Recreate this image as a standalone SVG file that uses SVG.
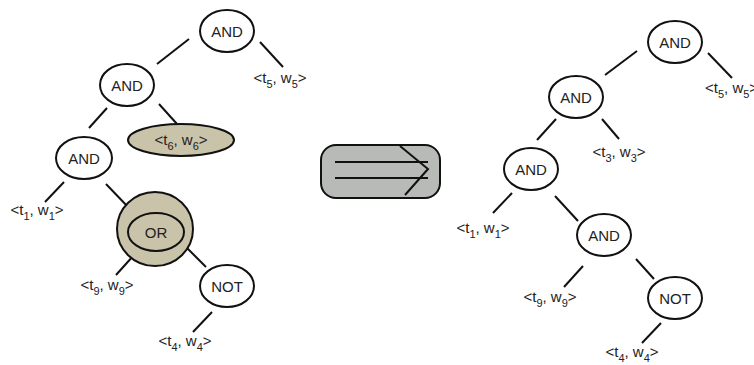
<svg xmlns="http://www.w3.org/2000/svg" width="754" height="365" viewBox="0 0 754 365">
<style>
.n{fill:#fff;stroke:#111;stroke-width:2}
.tan{fill:#c9c3aa;stroke:#111;stroke-width:2}
.t{font-family:"Liberation Sans",Arial,sans-serif;font-size:15px;fill:#222;text-anchor:middle}
.l{font-family:"Liberation Sans",Arial,sans-serif;font-size:15px;fill:#222;text-anchor:middle}
.s{font-size:11px}
.c line{stroke:#111;stroke-width:2}
</style>
<rect width="754" height="365" fill="#fff"/>
<g class="c" id="connectors">
<line x1="189" y1="39" x2="157" y2="64"/>
<line x1="260" y1="42" x2="283" y2="67"/>
<line x1="107" y1="108" x2="89" y2="128"/>
<line x1="159" y1="104" x2="177" y2="124"/>
<line x1="64" y1="182" x2="45" y2="202"/>
<line x1="106" y1="184" x2="129" y2="208"/>
<line x1="134" y1="255" x2="116" y2="275"/>
<line x1="187" y1="248" x2="206" y2="267"/>
<line x1="212" y1="312" x2="193" y2="332"/>
<line x1="637" y1="51" x2="605" y2="75"/>
<line x1="708" y1="53" x2="732" y2="78"/>
<line x1="556" y1="119" x2="537" y2="140"/>
<line x1="602" y1="119" x2="619" y2="139"/>
<line x1="512" y1="193" x2="493" y2="213"/>
<line x1="555" y1="196" x2="578" y2="221"/>
<line x1="583" y1="266" x2="564" y2="287"/>
<line x1="636" y1="259" x2="654" y2="279"/>
<line x1="661" y1="323" x2="642" y2="343"/>
</g>
<g id="L_and1"><ellipse class="n" cx="227" cy="31" rx="27" ry="21"/><text class="t" x="227" y="37">AND</text></g>
<g id="L_t5"><text class="l" x="280" y="83">&lt;t<tspan class="s" dy="5">5</tspan><tspan dy="-5">, w</tspan><tspan class="s" dy="5">5</tspan><tspan dy="-5">&gt;</tspan></text></g>
<g id="L_and2"><ellipse class="n" cx="127" cy="85" rx="27" ry="21"/><text class="t" x="127" y="91">AND</text></g>
<g id="L_t6"><ellipse class="tan" cx="181" cy="140" rx="53" ry="16"/><text class="l" x="181" y="145">&lt;t<tspan class="s" dy="5">6</tspan><tspan dy="-5">, w</tspan><tspan class="s" dy="5">6</tspan><tspan dy="-5">&gt;</tspan></text></g>
<g id="L_and3"><ellipse class="n" cx="84" cy="158" rx="28" ry="21"/><text class="t" x="84" y="164">AND</text></g>
<g id="L_t1"><text class="l" x="37" y="215">&lt;t<tspan class="s" dy="5">1</tspan><tspan dy="-5">, w</tspan><tspan class="s" dy="5">1</tspan><tspan dy="-5">&gt;</tspan></text></g>
<g id="L_or"><ellipse class="tan" cx="155" cy="229" rx="38" ry="37"/><ellipse fill="none" stroke="#111" stroke-width="2" cx="156" cy="232" rx="28" ry="19"/><text class="t" x="156" y="238">OR</text></g>
<g id="L_t9"><text class="l" x="107" y="290">&lt;t<tspan class="s" dy="5">9</tspan><tspan dy="-5">, w</tspan><tspan class="s" dy="5">9</tspan><tspan dy="-5">&gt;</tspan></text></g>
<g id="L_not"><ellipse class="n" cx="227" cy="286" rx="27" ry="21"/><text class="t" x="227" y="292">NOT</text></g>
<g id="L_t4"><text class="l" x="185" y="346">&lt;t<tspan class="s" dy="5">4</tspan><tspan dy="-5">, w</tspan><tspan class="s" dy="5">4</tspan><tspan dy="-5">&gt;</tspan></text></g>
<g id="arrow">
<rect x="321" y="145" width="119" height="53" rx="15" fill="#b7bab7" stroke="#111" stroke-width="2"/>
<line x1="335" y1="162" x2="428" y2="162" stroke="#111" stroke-width="2"/>
<line x1="335" y1="178" x2="428" y2="178" stroke="#111" stroke-width="2"/>
<polyline points="400,146 428,169 405,195" fill="none" stroke="#111" stroke-width="2"/>
</g>
<g id="R_and1"><ellipse class="n" cx="675" cy="42" rx="27" ry="21"/><text class="t" x="675" y="48">AND</text></g>
<g id="R_t5"><text class="l" x="705" y="93" style="text-anchor:start">&lt;t<tspan class="s" dy="5">5</tspan><tspan dy="-5">, w</tspan><tspan class="s" dy="5">5</tspan><tspan dy="-5">&gt;</tspan></text></g>
<g id="R_and2"><ellipse class="n" cx="576" cy="97" rx="27" ry="21"/><text class="t" x="576" y="103">AND</text></g>
<g id="R_t3"><text class="l" x="619" y="157">&lt;t<tspan class="s" dy="5">3</tspan><tspan dy="-5">, w</tspan><tspan class="s" dy="5">3</tspan><tspan dy="-5">&gt;</tspan></text></g>
<g id="R_and3"><ellipse class="n" cx="531" cy="169" rx="27" ry="21"/><text class="t" x="531" y="175">AND</text></g>
<g id="R_t1"><text class="l" x="483" y="233">&lt;t<tspan class="s" dy="5">1</tspan><tspan dy="-5">, w</tspan><tspan class="s" dy="5">1</tspan><tspan dy="-5">&gt;</tspan></text></g>
<g id="R_and4"><ellipse class="n" cx="604" cy="235" rx="27" ry="21"/><text class="t" x="604" y="241">AND</text></g>
<g id="R_t9"><text class="l" x="550" y="302">&lt;t<tspan class="s" dy="5">9</tspan><tspan dy="-5">, w</tspan><tspan class="s" dy="5">9</tspan><tspan dy="-5">&gt;</tspan></text></g>
<g id="R_not"><ellipse class="n" cx="675" cy="298" rx="27" ry="21"/><text class="t" x="675" y="304">NOT</text></g>
<g id="R_t4"><text class="l" x="632" y="357">&lt;t<tspan class="s" dy="5">4</tspan><tspan dy="-5">, w</tspan><tspan class="s" dy="5">4</tspan><tspan dy="-5">&gt;</tspan></text></g>
</svg>
